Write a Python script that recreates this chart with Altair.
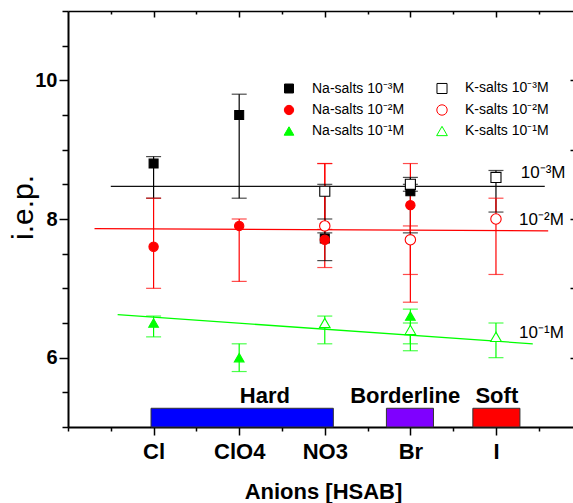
import json

import altair as alt
import pandas as pd

FONT = "Liberation Sans"

# Anions along the x axis (HSAB order)
anions = ["Cl", "ClO4", "NO3", "Br", "I"]

# Legend entries: first column Na salts, second column K salts
series = ["Na-salts 10⁻³M", "Na-salts 10⁻²M", "Na-salts 10⁻¹M",
          "K-salts 10⁻³M", "K-salts 10⁻²M", "K-salts 10⁻¹M"]
series_shape = ["square", "circle", "triangle-up", "square", "circle", "triangle-up"]
series_stroke = ["#000000", "#ff0000", "#00ff00", "#000000", "#ff0000", "#00ff00"]
series_fill = ["#000000", "#ff0000", "#00ff00", "#ffffff", "#ffffff", "#ffffff"]
series_size = [80, 115, 130, 80, 115, 130]

# i.e.p. values per anion (None = not measured) and error-bar limits
na_1e3 = [8.8, 9.5, 7.72, 8.4, None]
na_1e3_lo = [8.3, 8.3, 7.4, 7.8, None]
na_1e3_hi = [8.9, 9.8, 8.0, 8.5, None]

na_1e2 = [7.6, 7.9, 7.7, 8.2, None]
na_1e2_lo = [7.0, 7.1, 7.3, 7.2, None]
na_1e2_hi = [8.3, 8.0, 8.8, 8.8, None]

na_1e1 = [6.5, 6.0, None, 6.6, None]
na_1e1_lo = [6.3, 5.8, None, 6.2, None]
na_1e1_hi = [6.6, 6.2, None, 6.7, None]

k_1e3 = [None, None, 8.4, 8.5, 8.6]
k_1e3_lo = [None, None, 7.8, 8.4, 8.1]
k_1e3_hi = [None, None, 8.5, 8.6, 8.7]

k_1e2 = [None, None, 7.9, 7.7, 8.0]
k_1e2_lo = [None, None, 7.85, 6.8, 7.2]
k_1e2_hi = [None, None, 8.8, 7.9, 8.3]

k_1e1 = [None, None, 6.5, 6.4, 6.3]
k_1e1_lo = [None, None, 6.2, 6.1, 6.0]
k_1e1_hi = [None, None, 6.6, 6.5, 6.5]

# Concentration trend lines (start/end in data units)
fit_names = ["10⁻³M", "10⁻²M", "10⁻¹M"]
fit_colors = ["#111111", "#ff0000", "#00ff00"]
fit_x0 = [0.50, 0.31, 0.58]
fit_x1 = [5.57, 5.61, 5.43]
fit_y0 = [8.47, 7.86, 6.62]
fit_y1 = [8.47, 7.83, 6.20]
fit_label_x = [5.29, 5.27, 5.27]
fit_label_y = [8.59, 7.91, 6.29]

# HSAB classification bands
hsab_groups = ["Hard", "Borderline", "Soft"]
hsab_colors = ["#0000ff", "#7f00ff", "#ff0000"]
hsab_start = [0.97, 3.72, 4.73]
hsab_end = [3.10, 4.27, 5.28]
hsab_low = [5.0, 5.0, 5.0]
hsab_high = [5.27, 5.27, 5.27]
hsab_label_x = [2.30, 3.94, 5.01]

# ---------------------------------------------------------------- tables
draw_order = [
    ("Na-salts 10⁻³M", na_1e3, na_1e3_lo, na_1e3_hi),
    ("Na-salts 10⁻²M", na_1e2, na_1e2_lo, na_1e2_hi),
    ("Na-salts 10⁻¹M", na_1e1, na_1e1_lo, na_1e1_hi),
    ("K-salts 10⁻³M", k_1e3, k_1e3_lo, k_1e3_hi),
    ("K-salts 10⁻²M", k_1e2, k_1e2_lo, k_1e2_hi),
    ("K-salts 10⁻¹M", k_1e1, k_1e1_lo, k_1e1_hi),
]
rows = []
for name, vals, los, his in draw_order:
    colour = series_stroke[series.index(name)]
    for i, anion in enumerate(anions):
        if vals[i] is None:
            continue
        rows.append({"series": name, "anion": anion, "pos": i + 1,
                     "iep": vals[i], "lo": los[i], "hi": his[i], "clr": colour})
obs = pd.DataFrame(rows)

caps = pd.concat([
    obs[["series", "pos", "clr"]].assign(cap=obs["lo"]),
    obs[["series", "pos", "clr"]].assign(cap=obs["hi"]),
])

fits = pd.DataFrame({"name": fit_names, "clr": fit_colors,
                     "x0": fit_x0, "x1": fit_x1, "y0": fit_y0, "y1": fit_y1,
                     "lx": fit_label_x, "ly": fit_label_y})

hsab = pd.DataFrame({"group": hsab_groups, "clr": hsab_colors,
                     "start": hsab_start, "end": hsab_end,
                     "low": hsab_low, "high": hsab_high, "lx": hsab_label_x})

# ---------------------------------------------------------------- scales / axes
xs = alt.Scale(domain=[0, 5.9], nice=False, zero=False)
ys = alt.Scale(domain=[5, 11], nice=False, zero=False)

x_ticks = [i * 0.5 for i in range(12)]
y_ticks = [5 + i * 0.5 for i in range(13)]
y_major = "datum.value == 6 || datum.value == 8 || datum.value == 10"

bottom_axis = alt.Axis(
    orient="bottom",
    values=x_ticks,
    labelExpr=("datum.value % 1 == 0 && datum.value >= 1 ? "
               + json.dumps(anions) + "[datum.value - 1] : ''"),
    tickSize={"condition": {"test": "datum.value % 1 == 0 && datum.value >= 1", "value": 8},
              "value": 4},
    tickColor="black", tickWidth=1.5,
    domainColor="black", domainWidth=2,
    labelFont=FONT, labelFontSize=22, labelFontWeight="bold", labelColor="black",
    labelPadding=6, labelFlush=False, labelOverlap=False,
    grid=False,
    title="Anions [HSAB]", titleFont=FONT, titleFontSize=22, titleFontWeight="bold",
    titleColor="black", titleX=255, titleY=71, titleBaseline="alphabetic",
    titleAnchor="start", titleAlign="center",
)

left_axis = alt.Axis(
    orient="left",
    values=y_ticks,
    labelExpr=y_major + " ? toString(datum.value) : ''",
    tickSize={"condition": {"test": y_major, "value": 9}, "value": 6},
    tickColor="black", tickWidth=1.5,
    domainColor="black", domainWidth=2,
    labelFont=FONT, labelFontSize=20, labelFontWeight="bold", labelColor="black",
    labelPadding=2, labelFlush=False, labelOverlap=False,
    grid=False,
    title="i.e.p.", titleFont=FONT, titleFontSize=30, titleFontWeight="normal",
    titleColor="black", titleAngle=270, titleX=-36, titleY=196,
    titleAlign="center", titleBaseline="alphabetic",
)

top_frame = alt.Axis(orient="top", ticks=False, labels=False, title=None, grid=False,
                     domainColor="black", domainWidth=1.5)
top_major = alt.Axis(orient="top", domain=False, labels=False, title=None, grid=False,
                     values=[1, 2, 3, 4, 5], tickSize=6, offset=-6,
                     tickColor="black", tickWidth=1.5)
top_minor = alt.Axis(orient="top", domain=False, labels=False, title=None, grid=False,
                     values=[0.5, 1.5, 2.5, 3.5, 4.5, 5.5], tickSize=3, offset=-3,
                     tickColor="black", tickWidth=1.5)
right_ticks = alt.Axis(orient="right", domain=False, labels=False, title=None, grid=False,
                       values=[6, 7, 8, 9, 10], tickSize=3, offset=-3,
                       tickColor="black", tickWidth=1.5)

# ---------------------------------------------------------------- layers
bands = alt.Chart(hsab).mark_rect(stroke="#333333", strokeWidth=1).encode(
    x=alt.X("start:Q", scale=xs, axis=bottom_axis),
    x2="end:Q",
    y=alt.Y("low:Q", scale=ys, axis=left_axis),
    y2="high:Q",
    color=alt.Color("clr:N", scale=None),
)

band_labels = alt.Chart(hsab).mark_text(
    font=FONT, fontSize=22, fontWeight="bold", color="black",
    align="center", baseline="alphabetic", dy=-5,
).encode(
    x=alt.X("lx:Q", scale=xs, axis=None),
    y=alt.Y("high:Q", scale=ys, axis=None),
    text="group:N",
)

fit_lines = alt.Chart(fits).mark_rule(strokeWidth=1.3).encode(
    x=alt.X("x0:Q", scale=xs, axis=top_frame),
    x2="x1:Q",
    y=alt.Y("y0:Q", scale=ys, axis=right_ticks),
    y2="y1:Q",
    color=alt.Color("clr:N", scale=None),
)

fit_labels = alt.Chart(fits).mark_text(
    font=FONT, fontSize=17, color="black", align="left", baseline="alphabetic",
).encode(
    x=alt.X("lx:Q", scale=xs, axis=None),
    y=alt.Y("ly:Q", scale=ys, axis=None),
    text="name:N",
)

err_bars = alt.Chart(obs).mark_rule(strokeWidth=1.2).encode(
    x=alt.X("pos:Q", scale=xs, axis=top_major),
    y=alt.Y("lo:Q", scale=ys, axis=None),
    y2="hi:Q",
    color=alt.Color("clr:N", scale=None),
)

err_caps = alt.Chart(caps).mark_tick(orient="horizontal", size=15, thickness=1.2).encode(
    x=alt.X("pos:Q", scale=xs, axis=top_minor),
    y=alt.Y("cap:Q", scale=ys, axis=None),
    color=alt.Color("clr:N", scale=None),
)

points = alt.Chart(obs).mark_point(opacity=1, strokeWidth=1.1).encode(
    x=alt.X("pos:Q", scale=xs, axis=None),
    y=alt.Y("iep:Q", scale=ys, axis=None),
    shape=alt.Shape("series:N", scale=alt.Scale(domain=series, range=series_shape),
                    legend=alt.Legend(title=None)),
    fill=alt.Fill("series:N", scale=alt.Scale(domain=series, range=series_fill),
                  legend=alt.Legend(title=None)),
    stroke=alt.Stroke("series:N", scale=alt.Scale(domain=series, range=series_stroke),
                      legend=alt.Legend(title=None)),
    size=alt.Size("series:N", scale=alt.Scale(domain=series, range=series_size),
                  legend=alt.Legend(title=None)),
)

chart = alt.layer(
    bands, band_labels, fit_lines, fit_labels, err_bars, err_caps, points
).resolve_axis(
    x="independent", y="independent"
).properties(
    width=505, height=416,
    autosize=alt.AutoSizeParams(type="none"),
    padding={"left": 68, "top": 11, "right": 0, "bottom": 76},
    background="white",
).configure_view(
    stroke=None
).configure_legend(
    orient="none", legendX=214, legendY=70, columns=2,
    labelFont=FONT, labelFontSize=14, labelColor="black",
    symbolStrokeWidth=1, rowPadding=6, columnPadding=29, labelOffset=16,
    padding=0,
)

chart.save("out.html", embed_options={"renderer": "svg", "actions": False})
